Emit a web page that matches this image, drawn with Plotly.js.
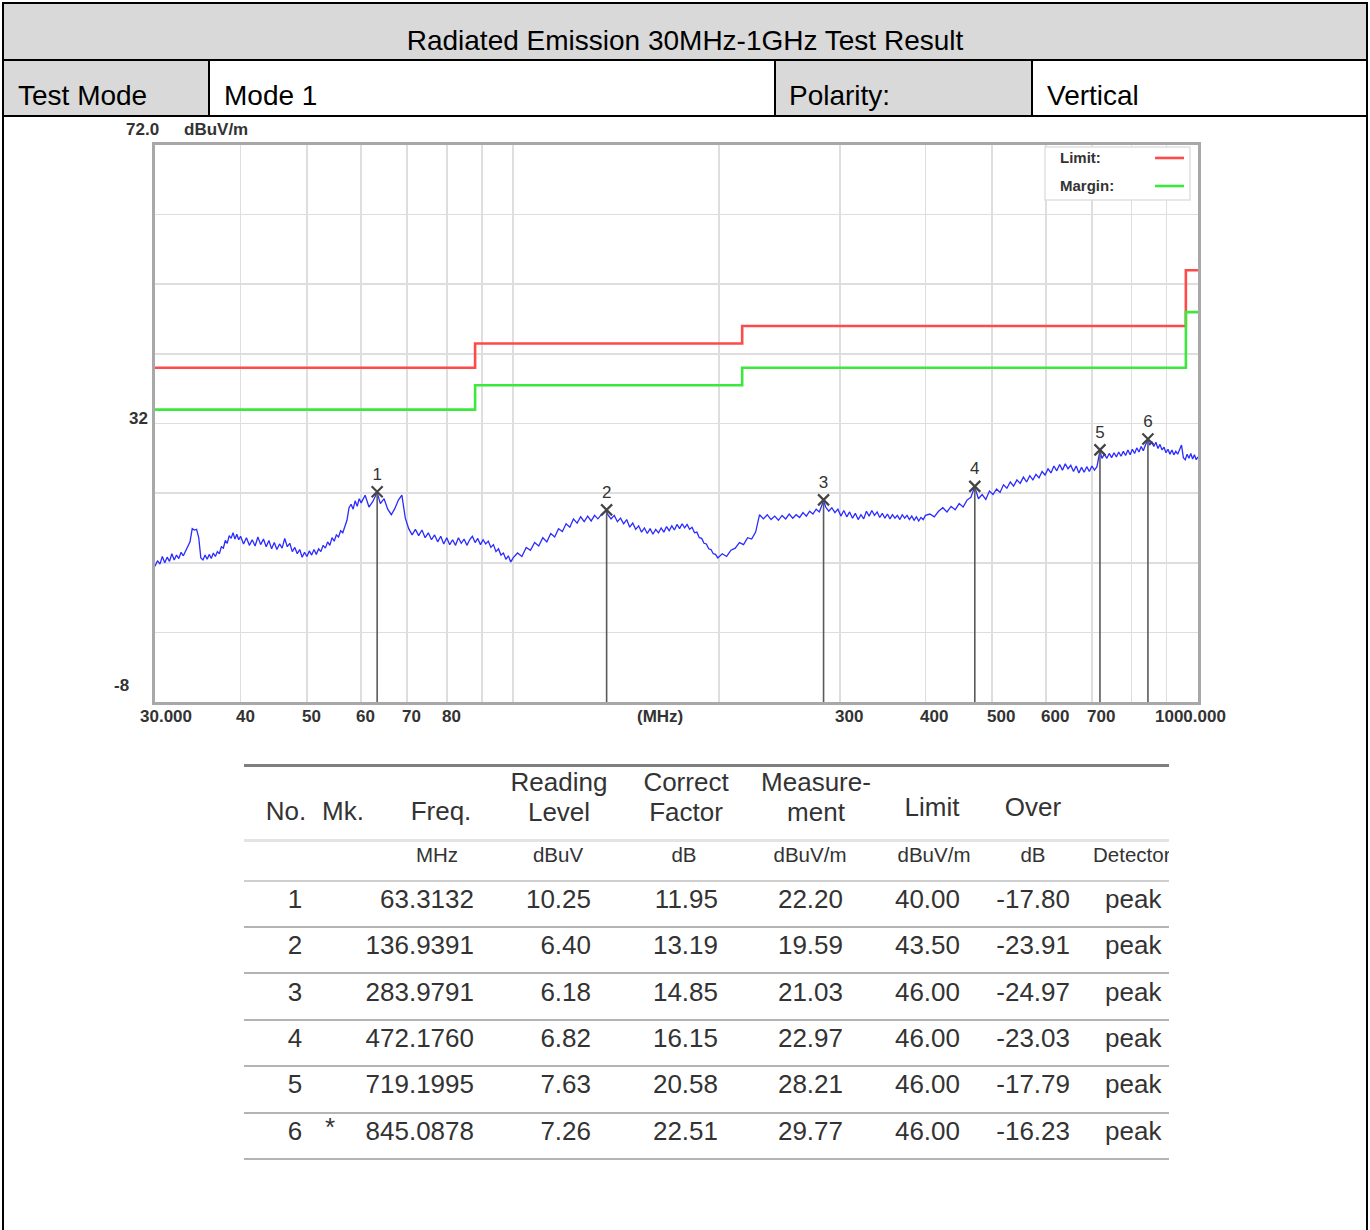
<!DOCTYPE html>
<html>
<head>
<meta charset="utf-8">
<script src="https://cdn.plot.ly/plotly-3.0.1.min.js"></script>
<style>
  html, body { margin:0; padding:0; background:#fff; }
  #page { position:relative; width:1370px; height:1230px; overflow:hidden; font-family:"Liberation Sans", Arial, sans-serif; }
  .abs { position:absolute; }
  .t { position:absolute; white-space:nowrap; line-height:1; }
</style>
</head>
<body>
<div id="page">
  <div id="chart" class="abs" style="left:0;top:116px;width:1370px;height:620px;"></div>
</div>
<script>
// ---------------- DATA ----------------
const titleText = 'Radiated Emission 30MHz-1GHz Test Result';
const headerCells = ['Test Mode', 'Mode 1', 'Polarity:', 'Vertical'];

// Limit and margin (dBuV/m) step lines
const limitFreq   = [30, 88, 216, 960, 1000];
const limitLevel  = [40, 43.5, 46, 54, 54];
const marginLevel = [34, 37.5, 40, 48, 48];

// Sweep trace (MHz, dBuV/m)
const sweepFreq = [
  30,30.25,30.5,30.75,31,31.25,31.5,31.75,32,32.25,32.5,32.75,33,33.25,33.5,33.75,34,34.25,34.5,34.75,
  35,35.25,35.5,35.75,36,36.25,36.5,36.75,37,37.25,37.5,37.75,38,38.25,38.5,38.75,39,39.25,39.5,39.75,40,
  40.4,40.8,41.2,41.6,42,42.4,42.8,43.2,43.6,44,44.4,44.8,45.2,45.6,46,46.4,46.8,47.2,47.6,48,
  48.4,48.8,49.2,49.6,50,50.4,50.8,51.2,51.6,52,52.4,52.8,53.2,53.6,54,54.4,54.8,55.2,55.6,56,
  56.4,56.8,57.2,57.6,58,58.4,58.8,59.2,59.6,60,
  60.8,61.6,62.4,63.3,64,64.8,65.6,66.4,67.2,68,68.8,69.6,70.4,71.2,72,72.8,73.6,74.4,75.2,76,
  76.8,77.6,78.4,79.2,80,80.8,81.6,82.4,83.2,84,84.8,85.6,86.4,87.2,88,88.8,89.6,90.4,91.2,92,
  92.8,93.6,94.4,95.2,96,96.8,97.6,98.4,99.2,100,
  101.5,103,104.5,106,107.5,109,110.5,112,113.5,115,116.5,118,119.5,121,122.5,124,125.5,127,128.5,130,
  131.5,133,134.5,136.9,137.5,139,140.5,142,143.5,145,146.5,148,149.5,151,152.5,154,155.5,157,158.5,160,
  161.5,163,164.5,166,167.5,169,170.5,172,173.5,175,176.5,178,179.5,181,182.5,184,185.5,187,188.5,190,
  191.5,193,194.5,196,197.5,199,
  202,205,208,211,214,217,220,223,226,229,232,235,238,241,244,247,250,253,256,259,
  262,265,268,271,274,277,280,284,286,289,292,295,298,301,304,307,310,313,316,319,
  322,325,328,331,334,337,340,343,346,349,352,355,358,361,364,367,370,373,376,379,
  382,385,388,391,394,397,400,
  406,412,418,424,430,436,442,448,454,460,466,472,478,484,490,496,502,508,514,520,
  526,532,538,544,550,556,562,568,574,580,586,592,598,604,610,616,622,628,634,640,
  646,652,658,664,670,676,682,688,694,700,706,712,719.2,724,730,736,742,748,754,760,
  766,772,778,784,790,796,802,808,814,820,826,832,838,845.1,850,856,862,868,874,880,
  886,892,898,904,910,916,922,928,934,940,946,952,958,964,970,976,982,988,994,1000
];
const sweepLevel = [
  11.5,12.3,11.8,12.9,12.0,12.8,12.2,13.3,12.4,13.1,12.6,13.5,13.0,13.6,14.2,15.0,16.9,16.7,16.8,15.6,
  12.7,12.4,13.1,12.5,13.2,12.6,13.4,12.9,13.6,13.3,14.3,14.1,15.2,14.8,15.9,15.5,16.3,15.4,16.1,15.3,15.8,
  14.7,15.6,14.5,15.3,14.4,15.7,14.6,15.4,14.3,15.2,14.0,14.9,13.9,14.7,14.1,15.5,14.3,14.8,13.6,14.2,
  13.3,13.9,12.8,13.5,12.9,13.7,13.1,13.9,13.2,14.0,13.6,14.5,14.1,15.0,14.5,15.6,15.1,16.0,15.7,16.6,
  16.3,17.2,18.1,19.9,20.4,19.7,20.9,20.1,21.2,20.6,
  21.7,20.0,20.8,22.1,20.5,21.2,19.7,18.9,19.8,21.0,21.7,18.4,16.9,16.0,16.8,15.9,16.7,15.6,16.3,15.3,
  16.0,15.0,15.8,14.7,15.6,14.6,15.3,14.5,15.6,14.8,15.4,14.5,15.3,15.8,14.9,15.5,14.6,15.3,14.7,15.1,
  14.2,14.6,13.6,14.0,13.1,13.4,12.5,13.0,12.1,12.7,
  13.4,12.9,14.2,13.8,14.9,14.4,15.6,15.0,16.2,15.7,16.9,16.5,17.6,17.1,18.3,17.7,18.6,17.9,18.7,18.0,
  18.8,18.3,18.9,19.5,18.9,18.3,18.8,17.9,18.4,17.6,18.2,17.1,17.7,16.8,17.3,16.4,17.0,16.2,16.9,16.1,
  16.8,16.3,17.0,16.4,17.2,16.6,17.3,16.7,17.5,16.9,17.6,17.0,17.5,16.8,17.1,16.3,16.4,15.6,15.5,14.8,
  14.7,14.0,13.9,13.3,13.2,12.7,
  13.3,12.9,13.8,14.1,14.9,14.6,15.6,15.4,16.4,18.9,18.3,18.9,18.2,18.7,18.1,18.8,18.3,19.0,18.4,18.9,
  18.5,19.2,18.7,19.4,19.0,19.7,19.3,20.9,20.0,19.4,19.9,19.2,19.7,18.7,19.5,18.6,19.3,18.4,19.1,18.2,
  18.9,18.3,19.4,18.7,19.5,18.8,19.3,18.5,19.1,18.4,19.0,18.3,18.9,18.4,18.8,18.2,18.9,18.4,18.8,18.2,
  18.7,18.1,18.6,18.0,18.5,18.2,18.8,
  19.0,18.6,19.4,19.9,19.3,20.1,19.6,20.5,20.0,21.0,21.4,22.9,21.2,21.8,21.1,22.3,21.8,22.6,22.1,23.2,
  22.7,23.6,23.0,23.9,23.4,24.3,23.6,24.5,23.9,24.7,24.2,25.1,24.6,25.5,24.9,25.9,25.2,26.1,25.3,26.2,
  25.5,26.0,25.1,25.9,24.9,25.7,25.0,25.8,25.1,25.9,25.3,25.8,28.1,27.0,27.6,27.0,27.7,27.1,27.8,27.2,
  27.9,27.3,28.0,27.4,28.2,27.5,28.3,27.7,28.5,27.9,28.7,28.1,28.9,29.7,28.9,29.4,28.7,29.3,28.4,29.0,
  28.2,28.6,27.8,28.3,27.6,28.2,27.5,28.0,27.6,28.4,28.9,27.1,26.8,27.6,27.0,27.7,26.9,27.5,26.8,27.2
];

// Result table
const tblNo      = ['1','2','3','4','5','6'];
const tblMk      = ['','','','','','*'];
const tblFreq    = ['63.3132','136.9391','283.9791','472.1760','719.1995','845.0878'];
const tblReading = ['10.25','6.40','6.18','6.82','7.63','7.26'];
const tblCorrect = ['11.95','13.19','14.85','16.15','20.58','22.51'];
const tblMeas    = ['22.20','19.59','21.03','22.97','28.21','29.77'];
const tblLimit   = ['40.00','43.50','46.00','46.00','46.00','46.00'];
const tblOver    = ['-17.80','-23.91','-24.97','-23.03','-17.79','-16.23'];
const tblDet     = ['peak','peak','peak','peak','peak','peak'];
const tblHead1   = ['No.','Mk.','Freq.','Reading','Correct','Measure-','Limit','Over'];
const tblHead2   = ['','','','Level','Factor','ment','',''];
const tblUnits   = ['','','MHz','dBuV','dB','dBuV/m','dBuV/m','dB','Detector'];

// Axis
const yMin = -8, yMax = 72;
const xMin = 30, xMax = 1000;
const gridFreq   = [40,50,60,70,80,90,100,200,300,400,500,600,700,800,900];
const gridLabel  = ['40','50','60','70','80','','','','300','400','500','600','700','',''];
const xEndLabels = ['30.000', '1000.000'];
const xUnitLabel = '(MHz)';
const yLabels    = ['72.0', '32', '-8'];
const yUnit      = 'dBuV/m';
const legendText = ['Limit:', 'Margin:'];

// ---------------- PAGE (header + table) ----------------
const page = document.getElementById('page');
function box(x, y, w, h, bg) {
  const d = document.createElement('div');
  d.className = 'abs';
  Object.assign(d.style, {left:x+'px', top:y+'px', width:w+'px', height:h+'px', background:bg});
  page.appendChild(d);
  return d;
}
function txt(parent, s, x, y, align, size, color, weight) {
  const d = document.createElement('div');
  d.className = 't';
  d.textContent = s;
  const tx = align === 'center' ? '-50%' : (align === 'right' ? '-100%' : '0');
  Object.assign(d.style, {left:x+'px', top:y+'px', fontSize:size+'px', color:color||'#000',
    fontWeight:weight||'normal', transform:'translate('+tx+',-50%)'});
  parent.appendChild(d);
  return d;
}
// header fills
box(3, 3, 1364, 57, '#d9d9d9');
box(3, 60, 206, 56, '#d9d9d9');
box(775, 60, 257, 56, '#d9d9d9');
txt(page, titleText, 685, 41, 'center', 28, '#000');
txt(page, headerCells[0], 18, 96, 'left', 28, '#000');
txt(page, headerCells[1], 224, 96, 'left', 28, '#000');
txt(page, headerCells[2], 789, 96, 'left', 28, '#000');
txt(page, headerCells[3], 1047, 96, 'left', 28, '#000');

// table
const tX0 = 244, tX1 = 1169;
const tbl = box(0, 0, 1370, 1230, 'transparent');
const clip = document.createElement('div');
clip.className = 'abs';
Object.assign(clip.style, {left:'0px', top:'0px', width:tX1+'px', height:'1230px', overflow:'hidden'});
tbl.appendChild(clip);
function hline(y, h, col) {
  const d = document.createElement('div'); d.className = 'abs';
  Object.assign(d.style, {left:tX0+'px', top:(y - h/2)+'px', width:(tX1-tX0)+'px', height:h+'px', background:col});
  tbl.appendChild(d);
}
hline(765, 3, '#7f7f7f');
hline(840, 3, '#e3e3e3');
hline(881, 2.5, '#cfcfcf');
const rowY = [899, 945, 992, 1038, 1084, 1131];
const rowLineY = [927, 973, 1020, 1066, 1113, 1159];
rowLineY.forEach(y => hline(y, 2.5, '#b4b4b4'));

const headCX = [286, 343, 441, 559, 686, 816, 932, 1033];
const tc = '#333';
tblHead1.forEach((s, i) => {
  const two = tblHead2[i] !== '';
  txt(clip, s, headCX[i], two ? 782 : (i < 3 ? 811 : 807), 'center', 26, tc);
  if (two) txt(clip, tblHead2[i], headCX[i], 812, 'center', 26, tc);
});
const unitCX = [0, 0, 437, 558, 684, 810, 934, 1033, 1093];
tblUnits.forEach((s, i) => {
  if (!s) return;
  txt(clip, s, unitCX[i], 855, i === 8 ? 'left' : 'center', 20.5, tc);
});
const cols = [
  {v: tblNo, x: 295, a: 'center'},
  {v: tblMk, x: 330, a: 'center'},
  {v: tblFreq, x: 474, a: 'right'},
  {v: tblReading, x: 591, a: 'right'},
  {v: tblCorrect, x: 718, a: 'right'},
  {v: tblMeas, x: 843, a: 'right'},
  {v: tblLimit, x: 960, a: 'right'},
  {v: tblOver, x: 1070, a: 'right'},
  {v: tblDet, x: 1105, a: 'left'}
];
cols.forEach(c => c.v.forEach((s, r) => {
  if (s) txt(clip, s, c.x, rowY[r] + (c.v === tblMk ? -4 : 0), c.a, 26, tc);
}));

// frame lines (on top)
box(2, 2, 1366, 2, '#000');
box(2, 59, 1366, 2, '#000');
box(2, 115, 1366, 2, '#000');
box(2, 2, 2, 1228, '#000');
box(1366, 2, 2, 1228, '#000');
box(208, 60, 2, 56, '#000');
box(774, 60, 2, 56, '#000');
box(1031, 60, 2, 56, '#000');

// ---------------- CHART ----------------
const markerFreq = tblFreq.map(Number);
const markerLevel = tblMeas.map(Number);
const stemX = [], stemY = [];
markerFreq.forEach((f, i) => { stemX.push(f, f, null); stemY.push(markerLevel[i], yMin, null); });

const fam = 'Liberation Sans, Arial, sans-serif';
const lblFont = {family:fam, size:17, weight:'bold', color:'#333'};
const legFont = {family:fam, size:15, weight:'bold', color:'#333'};

const traces = [
  {x: limitFreq, y: limitLevel, mode:'lines', line:{shape:'hv', color:'#ff4a4a', width:2.6}, hoverinfo:'skip'},
  {x: limitFreq, y: marginLevel, mode:'lines', line:{shape:'hv', color:'#3de83d', width:2.6}, hoverinfo:'skip'},
  {x: sweepFreq, y: sweepLevel, mode:'lines', line:{color:'#2b2bff', width:1.3}, hoverinfo:'skip'},
  {x: stemX, y: stemY, mode:'lines', line:{color:'#5a5a5a', width:1.6}, hoverinfo:'skip'},
  {x: markerFreq, y: markerLevel, mode:'markers+text', text: tblNo, textposition:'top center',
   textfont:{family:fam, size:17, color:'#333'},
   marker:{symbol:'x-thin-open', size:11, line:{width:2.2, color:'#444'}, color:'#444'}, hoverinfo:'skip'}
];

const annotations = [];
gridLabel.forEach((s, i) => {
  if (!s) return;
  annotations.push({text:s, xref:'x', yref:'paper', x:Math.log10(gridFreq[i]), y:0, xanchor:'left', yanchor:'middle',
    xshift:-7, yshift:-14, showarrow:false, font:lblFont});
});
annotations.push(
  {text:xEndLabels[0], xref:'x', yref:'paper', x:Math.log10(xMin), y:0, xanchor:'left', yanchor:'middle', xshift:-17, yshift:-14, showarrow:false, font:lblFont},
  {text:xEndLabels[1], xref:'x', yref:'paper', x:Math.log10(xMax), y:0, xanchor:'right', yanchor:'middle', xshift:30, yshift:-14, showarrow:false, font:lblFont},
  {text:xUnitLabel, xref:'x', yref:'paper', x:Math.log10(164), y:0, xanchor:'center', yanchor:'middle', yshift:-14, showarrow:false, font:lblFont},
  {text:yLabels[0], xref:'paper', yref:'y', x:0, y:yMax, xanchor:'right', yanchor:'middle', xshift:6, yshift:16, showarrow:false, font:lblFont},
  {text:yUnit, xref:'paper', yref:'y', x:0, y:yMax, xanchor:'left', yanchor:'middle', xshift:27, yshift:16, showarrow:false, font:lblFont},
  {text:yLabels[1], xref:'paper', yref:'y', x:0, y:32, xanchor:'right', yanchor:'middle', xshift:-5, yshift:5, showarrow:false, font:lblFont},
  {text:yLabels[2], xref:'paper', yref:'y', x:0, y:yMin, xanchor:'right', yanchor:'middle', xshift:-24, yshift:17, showarrow:false, font:lblFont},
  {text:legendText[0], xref:'paper', yref:'paper', x:0.8658, y:0.9767, xanchor:'left', yanchor:'middle', showarrow:false, font:legFont},
  {text:legendText[1], xref:'paper', yref:'paper', x:0.8658, y:0.9264, xanchor:'left', yanchor:'middle', showarrow:false, font:legFont}
);

const layout = {
  width:1370, height:620,
  margin:{l:155, r:172, t:29, b:34, pad:0},
  paper_bgcolor:'rgba(0,0,0,0)', plot_bgcolor:'#ffffff',
  showlegend:false,
  font:{family:fam, color:'#333'},
  xaxis:{type:'log', range:[Math.log10(xMin), Math.log10(xMax)], tickmode:'array', tickvals:gridFreq, ticktext:gridLabel,
    showticklabels:false, showgrid:true, gridcolor:'#dedede', gridwidth:1.6, zeroline:false,
    showline:true, mirror:true, linecolor:'#a8a8a8', linewidth:3, ticks:'', fixedrange:true},
  yaxis:{range:[yMin, yMax], tick0:yMin, dtick:10, showticklabels:false,
    showgrid:true, gridcolor:'#dedede', gridwidth:1.6, zeroline:false,
    showline:true, mirror:true, linecolor:'#a8a8a8', linewidth:3, ticks:'', fixedrange:true},
  shapes:[
    {type:'rect', xref:'paper', yref:'paper', x0:0.8533, x1:0.9923, y0:0.9013, y1:0.9964,
     fillcolor:'#ffffff', line:{color:'#e0e0e0', width:1.5}, layer:'above'},
    {type:'line', xref:'paper', yref:'paper', x0:0.9588, x1:0.9866, y0:0.9767, y1:0.9767,
     line:{color:'#ff4a4a', width:2.6}, layer:'above'},
    {type:'line', xref:'paper', yref:'paper', x0:0.9588, x1:0.9866, y0:0.9264, y1:0.9264,
     line:{color:'#3de83d', width:2.6}, layer:'above'}
  ],
  annotations: annotations
};

Plotly.newPlot('chart', traces, layout, {staticPlot:true, displayModeBar:false});
</script>
</body>
</html>
